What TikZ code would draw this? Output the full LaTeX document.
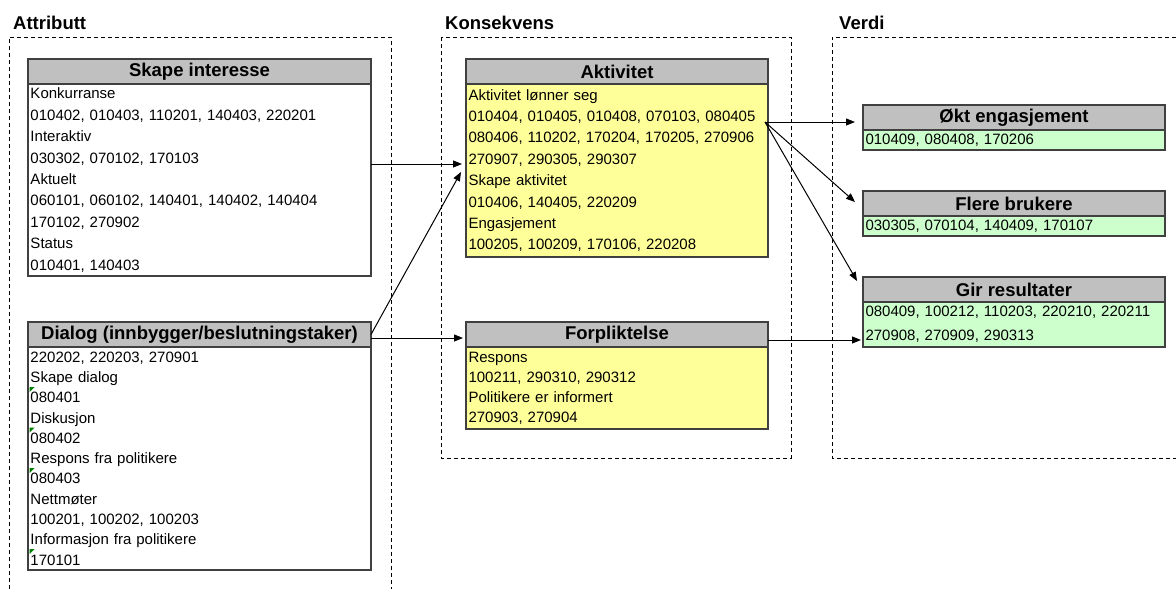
\documentclass[tikz,border=0pt]{standalone}
\usepackage{fontspec}
\setmainfont{Liberation Sans}
\usetikzlibrary{arrows.meta,calc}
\definecolor{hdrgray}{HTML}{C0C0C0}
\definecolor{noteyellow}{HTML}{FFFF99}
\definecolor{notegreen}{HTML}{CCFFCC}
\definecolor{edgegray}{HTML}{404040}
\definecolor{flaggreen}{HTML}{008000}

\begin{document}
\begin{tikzpicture}[x=1pt,y=-1pt,
  zone/.style={draw=black, line width=0.9pt, dash pattern=on 4pt off 3pt},
  zonelabel/.style={anchor=base west, inner sep=0pt, font=\fontsize{18.5}{20}\selectfont\bfseries},
  head/.style={draw=edgegray, line width=1.2pt, fill=hdrgray, anchor=north west,
    inner sep=0pt, outer sep=0pt, minimum height=25pt,
    font=\fontsize{18.5}{20}\selectfont\bfseries},
  body/.style={draw=edgegray, line width=1.2pt, anchor=north west, outer sep=0pt,
    inner xsep=2.5pt, inner ysep=0pt, align=left,
    font=\fontsize{15}{21.4}\selectfont},
  arr/.style={line width=1pt, -{Triangle[length=9pt,width=7pt]}},
]
\useasboundingbox[fill=white] (0,0) rectangle (1176,589);

% zone frames
\draw[zone] (9,589) -- (9,37) -- (391,37) -- (391,589);
\draw[zone] (441,37) rectangle (791,458);
\draw[zone] (1176,37) -- (832,37) -- (832,458) -- (1176,458);

\node[zonelabel] (lbl-attr) at (13,29.5) {Attributt};
\node[zonelabel] (lbl-kons) at (445,29.5) {Konsekvens};
\node[zonelabel] (lbl-verdi) at (839,29.5) {Verdi};

% Attributt
\node[head, minimum width=343pt] (si-head) at (28,59) {Skape interesse};
\node[body, fill=white, text width=338pt, minimum height=192pt] (si-body) at (si-head.south west)
  {Konkurranse\\010402, 010403, 110201, 140403, 220201\\Interaktiv\\030302, 070102, 170103\\Aktuelt\\060101, 060102, 140401, 140402, 140404\\170102, 270902\\Status\\010401, 140403};

\node[head, minimum width=343pt] (dlg-head) at (28,322) {Dialog (innbygger/beslutningstaker)};
\node[body, fill=white, text width=338pt, minimum height=223pt,
  font=\fontsize{15}{20.3}\selectfont] (dlg-body) at (dlg-head.south west)
  {220202, 220203, 270901\\Skape dialog\\080401\\Diskusjon\\080402\\Respons fra politikere\\080403\\Nettmøter\\100201, 100202, 100203\\Informasjon fra politikere\\170101};
\foreach \fy in {387,427.5,468,549}
  \fill[flaggreen] (29.5,\fy) -- ++(5,0) -- ++(-5,5) -- cycle;

% Konsekvens
\node[head, minimum width=302pt] (akt-head) at (466,59) {Aktivitet};
\node[body, fill=noteyellow, text width=297pt, minimum height=173pt] (akt-body) at (akt-head.south west)
  {Aktivitet lønner seg\\010404, 010405, 010408, 070103, 080405\\080406, 110202, 170204, 170205, 270906\\270907, 290305, 290307\\Skape aktivitet\\010406, 140405, 220209\\Engasjement\\100205, 100209, 170106, 220208};

\node[head, minimum width=302pt] (forp-head) at (466,322) {Forpliktelse};
\node[body, fill=noteyellow, text width=297pt, minimum height=82pt,
  font=\fontsize{15}{20}\selectfont] (forp-body) at (forp-head.south west)
  {Respons\\100211, 290310, 290312\\Politikere er informert\\270903, 270904};

% Verdi
\node[head, minimum width=302pt] (okt-head) at (863,105) {Økt engasjement};
\node[body, fill=notegreen, text width=297pt, minimum height=20pt] (okt-body) at (okt-head.south west)
  {010409, 080408, 170206};

\node[head, minimum width=302pt] (flere-head) at (863,191) {Flere brukere};
\node[body, fill=notegreen, text width=297pt, minimum height=20pt] (flere-body) at (flere-head.south west)
  {030305, 070104, 140409, 170107};

\node[head, minimum width=302pt] (gir-head) at (863,277) {Gir resultater};
\node[body, fill=notegreen, text width=297pt, minimum height=45pt,
  font=\fontsize{15}{24}\selectfont] (gir-body) at (gir-head.south west)
  {080409, 100212, 110203, 220210, 220211\\270908, 270909, 290313};

% connector end points
\coordinate (akt-in1) at (462,164);
\coordinate (akt-in2) at (461,172);
\coordinate (forp-in) at (463,338);
\coordinate (akt-out) at (765,122);
\coordinate (okt-in) at (855,122);
\coordinate (flere-in) at (855,202);
\coordinate (gir-in1) at (857,281);
\coordinate (gir-in2) at (861,340);

\draw[arr] (si-body.east |- akt-in1) -- (akt-in1);
\draw[arr] (dlg-head.east) -- (akt-in2);
\draw[arr] (dlg-head.east |- forp-in) -- (forp-in);
\draw[arr] (akt-out) -- (okt-in);
\draw[arr] (akt-out) -- (flere-in);
\draw[arr] (akt-out) -- (gir-in1);
\draw[arr] (forp-head.east |- gir-in2) -- (gir-in2);
\end{tikzpicture}
\end{document}
